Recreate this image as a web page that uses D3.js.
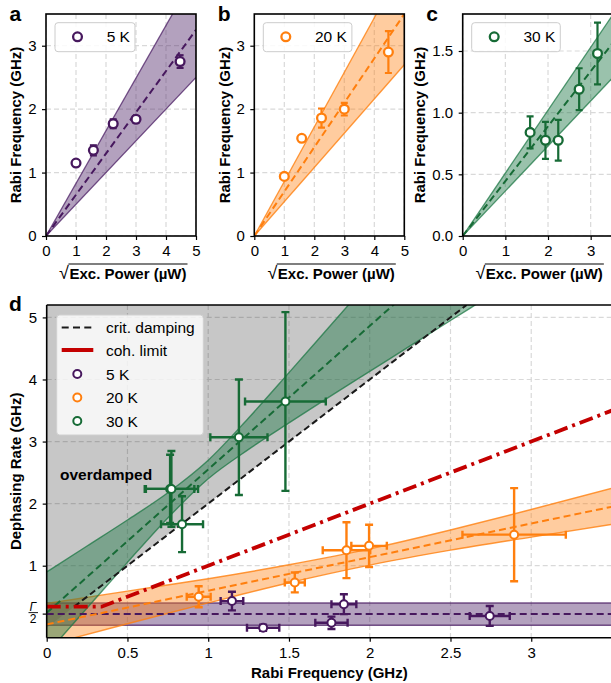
<!DOCTYPE html>
<html><head><meta charset="utf-8">
<script src="https://cdn.jsdelivr.net/npm/d3@7"></script>
<style>
body{margin:0;background:#fff}
svg{display:block}
text{font-family:"Liberation Sans",Arial,Helvetica,sans-serif}
</style>
</head><body>
<svg id="chart" width="611" height="683"></svg>
<script>
// ---------- DATA ----------
// Panels a-c : sqrt(excitation power) vs Rabi frequency
const sqrtPower5K  = [1.0, 1.58, 2.24, 3.0, 4.47];
const rabi5K       = [1.15, 1.35, 1.77, 1.84, 2.75];
const rabiErr5K    = [0.03, 0.08, 0.07, 0.05, 0.10];
const sqrtPower20K = [1.0, 1.58, 2.24, 3.0, 4.47];
const rabi20K      = [0.94, 1.54, 1.86, 2.0, 2.9];
const rabiErr20K   = [0.03, 0.04, 0.15, 0.10, 0.33];
const sqrtPower30K = [1.58, 1.94, 2.24, 2.73, 3.16];
const rabi30K      = [0.84, 0.776, 0.776, 1.19, 1.48];
const rabiErr30K   = [0.13, 0.15, 0.165, 0.17, 0.25];
// linear fits through origin: slope, lower and upper band slope  [5K, 20K, 30K]
const fitSlope     = [0.65, 0.70, 0.445];
const bandLoSlope  = [0.50, 0.54, 0.365];
const bandHiSlope  = [0.83, 0.86, 0.51];
const tempLabels   = ["5 K", "20 K", "30 K"];

// Panel d : Rabi frequency vs dephasing rate
const dRabi5K     = [1.147, 1.34, 1.763, 1.84, 2.743];
const dRabiErr5K  = [0.07, 0.10, 0.10, 0.077, 0.124];
const dDeph5K     = [0.43, 0.0, 0.08, 0.38, 0.19];
const dDephErr5K  = [0.15, 0.05, 0.10, 0.16, 0.16];
const dRabi20K    = [0.941, 1.536, 1.856, 1.996, 2.894];
const dRabiErr20K = [0.074, 0.062, 0.147, 0.11, 0.32];
const dDeph20K    = [0.50, 0.73, 1.25, 1.32, 1.50];
const dDephErr20K = [0.17, 0.16, 0.45, 0.34, 0.75];
const dRabi30K    = [0.838, 0.764, 0.772, 1.19, 1.478];
const dRabiErr30K = [0.13, 0.15, 0.165, 0.177, 0.25];
const dDeph30K    = [1.668, 2.237, 2.237, 3.07, 3.645];
const dDephErr30K = [0.45, 0.55, 0.61, 0.93, 1.44];
// fit lines (x at 0 and 3.5)
const dFitX       = [0, 3.5];
const dFit5K      = [0.22, 0.22];
const dFit20K     = [0.055, 1.95];
const dFit30K     = [0.24, 8.33];
// confidence bands
const dBandX5K    = [0, 3.5];
const dBandLo5K   = [0.04, 0.04];
const dBandHi5K   = [0.40, 0.40];
const dBandX20K   = [0, 0.5, 1, 1.5, 2, 2.5, 3, 3.5];
const dBandLo20K  = [-0.28, 0.065, 0.40, 0.725, 1.01, 1.25, 1.46, 1.665];
const dBandHi20K  = [0.39, 0.59, 0.79, 1.015, 1.27, 1.575, 1.905, 2.247];
const dBandX30K   = [0, 0.25, 0.5, 0.75, 1.0, 1.25, 1.5, 1.75, 2.0, 2.25, 2.5, 2.75];
const dBandLo30K  = [-0.42, 0.318, 1.054, 1.77, 2.40, 2.874, 3.30, 3.72, 4.13, 4.54, 4.95, 5.36];
const dBandHi30K  = [0.90, 1.317, 1.736, 2.175, 2.70, 3.38, 4.11, 4.85, 5.59, 6.33, 7.08, 7.83];
// critical damping & coherence limit
const critX = [0.17, 2.6];
const critY = [0.34, 5.2];
const overdampedX = [0, 2.6, 0];
const overdampedY = [0, 5.2, 5.2];
const cohX = [0, 0.34, 3.5];
const cohY = [0.34, 0.34, 3.5];
const dXTicks = [0, 0.5, 1, 1.5, 2, 2.5, 3];
const dYTicks = [1, 2, 3, 4, 5];
const gammaHalf = 0.22;

// ---------- STYLE ----------
const COL = ["#47185e", "#ff7f0e", "#176b36"];
const BAND = ["rgba(75,30,100,0.42)", "rgba(255,128,14,0.40)", "rgba(30,120,70,0.45)"];
const EDGE = ["rgba(75,30,100,0.75)", "rgba(255,128,14,0.8)", "rgba(30,120,70,0.75)"];
const GRID = "#d9d9d9";
const svg = d3.select("#chart");
const zip = (a, b) => a.map((v, i) => [v, b[i]]);

function styleAxis(ax) {
  ax.select(".domain").remove();
  ax.selectAll(".tick line").attr("stroke", "#000").attr("stroke-width", 1.2);
  ax.selectAll(".tick text").attr("font-size", 15).attr("fill", "#000")
    .attr("font-family", '"Liberation Sans",Arial,sans-serif');
}

// ---------- PANELS a-c ----------
const smallPanels = [
  {label: "a", x0: 46, x1: 196, xMax: 5, yMax: 3.5, xTicks: [0,1,2,3,4,5], yTicks: [0,1,2,3], yFmt: d3.format("d"),
   xs: sqrtPower5K, ys: rabi5K, es: rabiErr5K, ylabX: 21},
  {label: "b", x0: 254.3, x1: 404.3, xMax: 5, yMax: 3.5, xTicks: [0,1,2,3,4,5], yTicks: [0,1,2,3], yFmt: d3.format("d"),
   xs: sqrtPower20K, ys: rabi20K, es: rabiErr20K, ylabX: 229.5},
  {label: "c", x0: 462.7, x1: 612, xMax: 3.5, yMax: 1.8, xTicks: [0,1,2,3], yTicks: [0,0.5,1,1.5], yFmt: d3.format(".1f"),
   xs: sqrtPower30K, ys: rabi30K, es: rabiErr30K, ylabX: 425}
];
const top0 = 14, bot0 = 236;

smallPanels.forEach((p, k) => {
  const x = d3.scaleLinear().domain([0, p.xMax]).range([p.x0, p.x1]);
  const y = d3.scaleLinear().domain([0, p.yMax]).range([bot0, top0]);
  const g = svg.append("g");
  const cid = "clip" + p.label;
  svg.append("clipPath").attr("id", cid).append("rect")
    .attr("x", p.x0).attr("y", top0).attr("width", p.x1 - p.x0).attr("height", bot0 - top0);
  const inner = g.append("g").attr("clip-path", `url(#${cid})`);
  // grid
  inner.selectAll(".gx").data(p.xTicks).join("line")
    .attr("x1", d => x(d)).attr("x2", d => x(d)).attr("y1", top0).attr("y2", bot0)
    .attr("stroke", GRID).attr("stroke-width", 1.2).attr("stroke-dasharray", "5,3");
  inner.selectAll(".gy").data(p.yTicks).join("line")
    .attr("x1", p.x0).attr("x2", p.x1).attr("y1", d => y(d)).attr("y2", d => y(d))
    .attr("stroke", GRID).attr("stroke-width", 1.2).attr("stroke-dasharray", "5,3");
  // band
  const xm = p.xMax;
  const poly = [[0, 0], [xm, bandHiSlope[k] * xm], [xm, bandLoSlope[k] * xm]];
  inner.append("path").attr("d", d3.line().x(d => x(d[0])).y(d => y(d[1]))(poly) + "Z")
    .attr("fill", BAND[k]).attr("stroke", "none");
  [bandHiSlope[k], bandLoSlope[k]].forEach(s => {
    inner.append("line").attr("x1", x(0)).attr("y1", y(0)).attr("x2", x(xm)).attr("y2", y(s * xm))
      .attr("stroke", EDGE[k]).attr("stroke-width", 1.3);
  });
  // fit line
  inner.append("line").attr("x1", x(0)).attr("y1", y(0)).attr("x2", x(xm)).attr("y2", y(fitSlope[k] * xm))
    .attr("stroke", COL[k]).attr("stroke-width", 2).attr("stroke-dasharray", "7,4");
  // error bars
  const pts = p.xs.map((v, i) => ({x: v, y: p.ys[i], e: p.es[i]}));
  const eb = inner.append("g").attr("stroke", COL[k]).attr("stroke-width", 2.2);
  pts.forEach(d => {
    eb.append("line").attr("x1", x(d.x)).attr("x2", x(d.x)).attr("y1", y(d.y - d.e)).attr("y2", y(d.y + d.e));
    [d.y - d.e, d.y + d.e].forEach(v => eb.append("line")
      .attr("x1", x(d.x) - 3.5).attr("x2", x(d.x) + 3.5).attr("y1", y(v)).attr("y2", y(v)));
  });
  inner.selectAll(".pt").data(pts).join("circle")
    .attr("cx", d => x(d.x)).attr("cy", d => y(d.y)).attr("r", 4.4)
    .attr("fill", "#fff").attr("stroke", COL[k]).attr("stroke-width", 2.3);
  // spines
  g.append("rect").attr("x", p.x0).attr("y", top0).attr("width", p.x1 - p.x0).attr("height", bot0 - top0)
    .attr("fill", "none").attr("stroke", "#000").attr("stroke-width", 1.6);
  // axes
  const ax = g.append("g").attr("transform", `translate(0,${bot0})`)
    .call(d3.axisBottom(x).tickValues(p.xTicks).tickFormat(d3.format("d")).tickSize(4).tickSizeOuter(0).tickPadding(5.5));
  styleAxis(ax);
  const ay = g.append("g").attr("transform", `translate(${p.x0},0)`)
    .call(d3.axisLeft(y).tickValues(p.yTicks).tickFormat(p.yFmt).tickSize(4).tickSizeOuter(0).tickPadding(5.5));
  styleAxis(ay);
  // legend
  const lg = g.append("g");
  const lbox = lg.append("rect").attr("x", p.x0 + 9).attr("y", 22.7).attr("height", 29).attr("rx", 3)
    .attr("fill", "rgba(255,255,255,0.85)").attr("stroke", "#cccccc").attr("stroke-width", 1);
  lg.append("circle").attr("cx", p.x0 + 31.5).attr("cy", 36.8).attr("r", 4.4)
    .attr("fill", "#fff").attr("stroke", COL[k]).attr("stroke-width", 2.3);
  const lt = lg.append("text").attr("x", p.x0 + 60.7).attr("y", 42.2).attr("font-size", 15.5).text(tempLabels[k]);
  lbox.attr("width", 60.7 + lt.node().getComputedTextLength() + 5 - 9);
  // panel label
  g.append("text").attr("x", p.x0 - 36.5).attr("y", 21).attr("font-size", 21).attr("font-weight", "bold").text(p.label);
  // y label
  g.append("text").attr("transform", `translate(${p.ylabX},${(top0 + bot0) / 2}) rotate(-90)`)
    .attr("text-anchor", "middle").attr("font-size", 15).attr("font-weight", "bold").text("Rabi Frequency (GHz)");
  // x label with sqrt
  const cx = (p.x0 + p.x1) / 2 + 7;
  const xt = g.append("text").attr("x", cx).attr("y", 278.5).attr("text-anchor", "middle")
    .attr("font-size", 15).attr("font-weight", "bold").text("Exc. Power (µW)");
  const w = xt.node().getComputedTextLength();
  g.append("text").attr("x", cx - w / 2 - 0.5).attr("y", 279).attr("text-anchor", "end")
    .attr("font-size", 18).text("√");
  g.append("line").attr("x1", cx - w / 2 - 1).attr("x2", cx + w / 2 + 1).attr("y1", 264).attr("y2", 264)
    .attr("stroke", "#000").attr("stroke-width", 1.1);
});

// ---------- PANEL d ----------
const dL = 46.7, dR = 612, dT = 305, dB = 637.7;
const X = d3.scaleLinear().domain([0, 3.5]).range([dL, dR]);
const Y = d3.scaleLinear().domain([-0.16, 5.2]).range([dB, dT]);
const gd = svg.append("g");
svg.append("clipPath").attr("id", "clipd").append("rect")
  .attr("x", dL).attr("y", dT).attr("width", dR - dL).attr("height", dB - dT);
const di = gd.append("g").attr("clip-path", "url(#clipd)");
const line = d3.line().x(d => X(d[0])).y(d => Y(d[1]));

// grid
di.selectAll(".gx").data(dXTicks.slice(1)).join("line")
  .attr("x1", d => X(d)).attr("x2", d => X(d)).attr("y1", dT).attr("y2", dB)
  .attr("stroke", GRID).attr("stroke-width", 1.2).attr("stroke-dasharray", "5,3");
di.selectAll(".gy").data(dYTicks).join("line")
  .attr("x1", dL).attr("x2", dR).attr("y1", d => Y(d)).attr("y2", d => Y(d))
  .attr("stroke", GRID).attr("stroke-width", 1.2).attr("stroke-dasharray", "5,3");

// overdamped region
di.append("path").attr("d", line(zip(overdampedX, overdampedY)) + "Z").attr("fill", "rgba(0,0,0,0.22)");

// bands
const bands = [[dBandX5K, dBandLo5K, dBandHi5K], [dBandX20K, dBandLo20K, dBandHi20K], [dBandX30K, dBandLo30K, dBandHi30K]];
bands.forEach((b, k) => {
  const data = b[0].map((v, i) => ({x: v, lo: b[1][i], hi: b[2][i]}));
  const area = d3.area().x(d => X(d.x)).y0(d => Y(d.lo)).y1(d => Y(d.hi)).curve(d3.curveMonotoneX);
  di.append("path").attr("d", area(data)).attr("fill", BAND[k]);
  ["lo", "hi"].forEach(key => {
    di.append("path").attr("d", d3.line().x(d => X(d.x)).y(d => Y(d[key])).curve(d3.curveMonotoneX)(data))
      .attr("fill", "none").attr("stroke", EDGE[k]).attr("stroke-width", 1.4);
  });
});
// fits
[dFit5K, dFit20K, dFit30K].forEach((f, k) => {
  di.append("path").attr("d", line(zip(dFitX, f))).attr("fill", "none")
    .attr("stroke", COL[k]).attr("stroke-width", 2).attr("stroke-dasharray", "7,4");
});
// critical damping
di.append("path").attr("d", line(zip(critX, critY))).attr("fill", "none")
  .attr("stroke", "#1a1a1a").attr("stroke-width", 2).attr("stroke-dasharray", "6.5,3.5");
// coherence limit
di.append("path").attr("d", line(zip(cohX, cohY))).attr("fill", "none")
  .attr("stroke", "#c40000").attr("stroke-width", 3.8).attr("stroke-dasharray", "14,5,3,5");

// data points
const dSets = [
  [dRabi5K, dRabiErr5K, dDeph5K, dDephErr5K],
  [dRabi20K, dRabiErr20K, dDeph20K, dDephErr20K],
  [dRabi30K, dRabiErr30K, dDeph30K, dDephErr30K]
];
dSets.forEach((s, k) => {
  const pts = s[0].map((v, i) => ({x: v, ex: s[1][i], y: s[2][i], ey: s[3][i]}));
  const eb = di.append("g").attr("stroke", COL[k]).attr("stroke-width", 2.4);
  pts.forEach(d => {
    eb.append("line").attr("x1", X(d.x)).attr("x2", X(d.x)).attr("y1", Y(d.y - d.ey)).attr("y2", Y(d.y + d.ey));
    eb.append("line").attr("x1", X(d.x - d.ex)).attr("x2", X(d.x + d.ex)).attr("y1", Y(d.y)).attr("y2", Y(d.y));
    [d.y - d.ey, d.y + d.ey].forEach(v => eb.append("line")
      .attr("x1", X(d.x) - 4).attr("x2", X(d.x) + 4).attr("y1", Y(v)).attr("y2", Y(v)));
    [d.x - d.ex, d.x + d.ex].forEach(v => eb.append("line")
      .attr("x1", X(v)).attr("x2", X(v)).attr("y1", Y(d.y) - 4).attr("y2", Y(d.y) + 4));
  });
  di.append("g").selectAll("circle").data(pts).join("circle")
    .attr("cx", d => X(d.x)).attr("cy", d => Y(d.y)).attr("r", 4)
    .attr("fill", "#fff").attr("stroke", COL[k]).attr("stroke-width", 2);
});

// overdamped label
gd.append("text").attr("x", 60).attr("y", 480).attr("font-size", 15.5).attr("font-weight", "bold").text("overdamped");

// spines
gd.append("line").attr("x1", dL).attr("x2", dL).attr("y1", dT).attr("y2", dB).attr("stroke", "#000").attr("stroke-width", 1.6);
gd.append("line").attr("x1", dL).attr("x2", dR).attr("y1", dB).attr("y2", dB).attr("stroke", "#000").attr("stroke-width", 1.6);
gd.append("line").attr("x1", dL).attr("x2", dR).attr("y1", dT).attr("y2", dT).attr("stroke", "#000").attr("stroke-width", 1.6);
gd.append("line").attr("x1", dR).attr("x2", dR).attr("y1", dT).attr("y2", dB).attr("stroke", "#000").attr("stroke-width", 1.6);

// axes
const dax = gd.append("g").attr("transform", `translate(0,${dB})`)
  .call(d3.axisBottom(X).tickValues(dXTicks).tickFormat(d => String(d)).tickSize(4).tickSizeOuter(0).tickPadding(5.5));
styleAxis(dax);
const day = gd.append("g").attr("transform", `translate(${dL},0)`)
  .call(d3.axisLeft(Y).tickValues(dYTicks).tickFormat(d3.format("d")).tickSize(4).tickSizeOuter(0).tickPadding(5.5));
styleAxis(day);
// Γ/2 tick
gd.append("line").attr("x1", dL - 4).attr("x2", dL).attr("y1", Y(gammaHalf)).attr("y2", Y(gammaHalf))
  .attr("stroke", "#000").attr("stroke-width", 1.2);
gd.append("text").attr("x", 33).attr("y", Y(gammaHalf) - 3.5).attr("text-anchor", "middle")
  .attr("font-size", 12).attr("font-style", "italic").text("Γ");
gd.append("line").attr("x1", 28.5).attr("x2", 38).attr("y1", Y(gammaHalf) - 1.5).attr("y2", Y(gammaHalf) - 1.5)
  .attr("stroke", "#000").attr("stroke-width", 0.9);
gd.append("text").attr("x", 33).attr("y", Y(gammaHalf) + 9).attr("text-anchor", "middle")
  .attr("font-size", 12).text("2");

// labels
gd.append("text").attr("x", 9).attr("y", 311).attr("font-size", 21).attr("font-weight", "bold").text("d");
gd.append("text").attr("transform", `translate(21,${(dT + dB) / 2}) rotate(-90)`).attr("text-anchor", "middle")
  .attr("font-size", 15).attr("font-weight", "bold").text("Dephasing Rate (GHz)");
gd.append("text").attr("x", (dL + dR) / 2).attr("y", 678).attr("text-anchor", "middle")
  .attr("font-size", 15).attr("font-weight", "bold").text("Rabi Frequency (GHz)");

// legend d
const L = gd.append("g");
L.append("rect").attr("x", 56.7).attr("y", 315).attr("width", 146.6).attr("height", 120).attr("rx", 3)
  .attr("fill", "rgba(255,255,255,0.8)").attr("stroke", "#d0d0d0");
const legendItems = [
  {type: "dash", label: "crit. damping", y: 327.5},
  {type: "red", label: "coh. limit", y: 350},
  {type: 0, label: "5 K", y: 374},
  {type: 1, label: "20 K", y: 397.5},
  {type: 2, label: "30 K", y: 421}
];
legendItems.forEach(it => {
  if (it.type === "dash") {
    L.append("line").attr("x1", 61.7).attr("x2", 93.3).attr("y1", it.y).attr("y2", it.y)
      .attr("stroke", "#1a1a1a").attr("stroke-width", 2).attr("stroke-dasharray", "7,4.3");
  } else if (it.type === "red") {
    L.append("line").attr("x1", 61.7).attr("x2", 93.3).attr("y1", it.y).attr("y2", it.y)
      .attr("stroke", "#c40000").attr("stroke-width", 3.8);
  } else {
    L.append("circle").attr("cx", 77.3).attr("cy", it.y).attr("r", 4).attr("fill", "#fff")
      .attr("stroke", COL[it.type]).attr("stroke-width", 2);
  }
  L.append("text").attr("x", 106).attr("y", it.y + 5.5).attr("font-size", 15.5).text(it.label);
});
</script>
</body></html>
